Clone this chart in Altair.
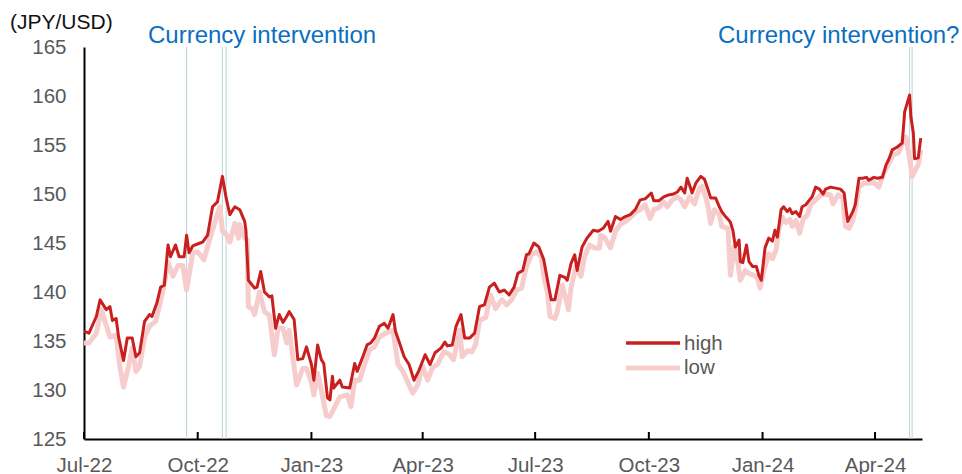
import altair as alt
import pandas as pd

# ---------------- data ----------------
high_dates = ["2022-07-01","2022-07-05","2022-07-11","2022-07-14","2022-07-19","2022-07-22","2022-07-24","2022-07-27","2022-07-29",
"2022-08-02","2022-08-05","2022-08-09","2022-08-12","2022-08-15","2022-08-19","2022-08-23","2022-08-25","2022-08-29",
"2022-09-01","2022-09-04","2022-09-07","2022-09-09","2022-09-13","2022-09-16","2022-09-20","2022-09-22","2022-09-24","2022-09-27",
"2022-10-03","2022-10-05","2022-10-09","2022-10-13","2022-10-17","2022-10-21","2022-10-24","2022-10-27","2022-10-31",
"2022-11-04","2022-11-08","2022-11-09","2022-11-11","2022-11-16","2022-11-18","2022-11-21","2022-11-24","2022-11-28","2022-11-30",
"2022-12-03","2022-12-06","2022-12-09","2022-12-12","2022-12-14","2022-12-18","2022-12-21","2022-12-25","2022-12-28",
"2023-01-01","2023-01-03","2023-01-06","2023-01-09","2023-01-11","2023-01-14","2023-01-16","2023-01-18","2023-01-19","2023-01-24","2023-01-26",
"2023-02-01","2023-02-05","2023-02-07","2023-02-11","2023-02-15","2023-02-18","2023-02-21","2023-02-25",
"2023-03-01","2023-03-04","2023-03-08","2023-03-10","2023-03-13","2023-03-17","2023-03-21","2023-03-25","2023-03-29",
"2023-04-03","2023-04-07","2023-04-11","2023-04-16","2023-04-19","2023-04-21","2023-04-25","2023-04-28",
"2023-05-02","2023-05-05","2023-05-09","2023-05-13","2023-05-17","2023-05-21","2023-05-25","2023-05-29",
"2023-06-02","2023-06-06","2023-06-10","2023-06-14","2023-06-17","2023-06-21","2023-06-24","2023-06-26","2023-06-30",
"2023-07-04","2023-07-08","2023-07-11","2023-07-14","2023-07-17","2023-07-21","2023-07-25","2023-07-27","2023-07-30",
"2023-08-02","2023-08-04","2023-08-08","2023-08-12","2023-08-17","2023-08-21","2023-08-25","2023-08-29","2023-08-31",
"2023-09-04","2023-09-08","2023-09-12","2023-09-16","2023-09-20","2023-09-24","2023-09-28",
"2023-10-03","2023-10-05","2023-10-09","2023-10-13","2023-10-17","2023-10-21","2023-10-24","2023-10-27","2023-10-30",
"2023-11-01","2023-11-03","2023-11-05","2023-11-08","2023-11-12","2023-11-15","2023-11-18","2023-11-20","2023-11-24","2023-11-27","2023-11-29",
"2023-12-02","2023-12-05","2023-12-06","2023-12-08","2023-12-10","2023-12-13","2023-12-14","2023-12-16","2023-12-19","2023-12-21","2023-12-24","2023-12-27","2023-12-29","2023-12-31",
"2024-01-03","2024-01-06","2024-01-09","2024-01-11","2024-01-13","2024-01-16","2024-01-18","2024-01-21","2024-01-23","2024-01-25","2024-01-28","2024-01-31",
"2024-02-02","2024-02-05","2024-02-08","2024-02-10","2024-02-13","2024-02-16","2024-02-19","2024-02-21","2024-02-25","2024-02-29",
"2024-03-04","2024-03-07","2024-03-09","2024-03-10","2024-03-14","2024-03-16","2024-03-19","2024-03-22","2024-03-25","2024-03-27","2024-03-31",
"2024-04-03","2024-04-07","2024-04-10","2024-04-12","2024-04-15","2024-04-19","2024-04-23","2024-04-25","2024-04-29","2024-04-30",
"2024-05-02","2024-05-03","2024-05-06","2024-05-08"]
high_values = [136.0,135.8,137.5,139.2,138.2,138.5,137.1,137.3,135.4,
133.0,135.3,135.3,133.4,133.8,137.0,137.7,137.5,138.9,
140.5,140.7,144.8,143.6,144.8,143.6,143.6,145.8,144.0,144.7,
145.0,145.1,145.8,148.7,149.2,151.8,149.6,147.9,148.7,
148.4,147.2,146.3,141.2,140.4,140.5,142.1,140.0,139.5,139.6,
136.3,137.7,136.9,137.5,138.0,137.2,133.1,133.2,134.4,
132.6,131.0,134.6,133.1,132.7,129.2,129.0,131.4,130.2,131.0,130.3,
130.2,132.7,131.9,133.2,134.6,134.8,135.3,136.5,
136.8,136.3,137.7,136.0,134.9,133.4,132.6,131.0,132.0,
133.6,132.6,133.8,134.3,134.9,134.5,134.6,136.5,
137.7,135.3,135.3,135.8,138.5,138.7,140.5,140.9,
140.0,140.2,139.7,140.5,141.9,142.2,143.8,143.9,145.0,
144.6,143.3,141.2,139.2,139.2,141.7,141.5,141.2,142.9,
143.8,142.2,144.6,145.5,146.3,146.2,146.5,147.2,146.2,
147.7,147.4,147.7,147.9,148.4,149.4,149.5,
150.1,149.3,149.3,149.7,149.9,150.0,150.2,150.7,150.1,
151.6,150.9,150.1,151.1,151.8,151.5,150.4,149.6,149.6,148.7,148.2,
147.7,147.3,147.1,146.3,144.6,145.3,143.1,143.0,144.8,143.1,142.6,142.6,141.7,141.2,
144.5,145.5,145.2,146.3,145.6,148.4,148.7,148.2,148.5,148.0,148.2,147.7,
148.7,148.9,149.4,149.7,150.7,150.5,150.0,150.5,150.7,150.6,
150.5,150.1,148.0,147.2,148.2,148.9,151.6,151.6,151.7,151.4,151.7,
151.6,151.7,153.0,153.5,154.5,154.8,155.2,158.4,160.1,157.9,
156.2,153.6,153.7,155.7]

low_dates = ["2022-07-01","2022-07-05","2022-07-11","2022-07-15","2022-07-22","2022-07-27","2022-07-30",
"2022-08-02","2022-08-06","2022-08-09","2022-08-12","2022-08-15","2022-08-19","2022-08-23","2022-08-28",
"2022-09-03","2022-09-07","2022-09-11","2022-09-15","2022-09-19","2022-09-22","2022-09-23","2022-09-26","2022-09-27",
"2022-10-01","2022-10-03","2022-10-06","2022-10-09","2022-10-15","2022-10-19","2022-10-21","2022-10-24","2022-10-27","2022-10-31",
"2022-11-03","2022-11-04","2022-11-08","2022-11-10","2022-11-11","2022-11-14","2022-11-16","2022-11-20","2022-11-24","2022-11-28",
"2022-12-02","2022-12-05","2022-12-09","2022-12-12","2022-12-14","2022-12-20","2022-12-25","2022-12-28",
"2023-01-01","2023-01-03","2023-01-06","2023-01-09","2023-01-13","2023-01-16","2023-01-20","2023-01-24","2023-01-30",
"2023-02-02","2023-02-05","2023-02-09","2023-02-13","2023-02-17","2023-02-21","2023-02-25",
"2023-03-02","2023-03-08","2023-03-12","2023-03-16","2023-03-20","2023-03-24","2023-03-28",
"2023-04-01","2023-04-05","2023-04-09","2023-04-13","2023-04-18","2023-04-22","2023-04-26",
"2023-05-01","2023-05-03","2023-05-07","2023-05-11","2023-05-14","2023-05-17","2023-05-22","2023-05-26","2023-05-30",
"2023-06-04","2023-06-08","2023-06-12","2023-06-16","2023-06-20","2023-06-24","2023-06-28",
"2023-07-02","2023-07-06","2023-07-08","2023-07-11","2023-07-13","2023-07-17","2023-07-19","2023-07-23","2023-07-28","2023-07-30",
"2023-08-03","2023-08-07","2023-08-10","2023-08-14","2023-08-18","2023-08-22","2023-08-23","2023-08-26","2023-08-31",
"2023-09-04","2023-09-08","2023-09-12","2023-09-16","2023-09-20","2023-09-24","2023-09-28",
"2023-10-02","2023-10-05","2023-10-09","2023-10-13","2023-10-16","2023-10-20","2023-10-24","2023-10-27","2023-10-30",
"2023-11-03","2023-11-07","2023-11-11","2023-11-13","2023-11-16","2023-11-18","2023-11-20","2023-11-23","2023-11-27","2023-11-29",
"2023-12-04","2023-12-06","2023-12-09","2023-12-11","2023-12-14","2023-12-18","2023-12-21","2023-12-25","2023-12-28","2023-12-30",
"2024-01-02","2024-01-06","2024-01-09","2024-01-12","2024-01-14","2024-01-17","2024-01-20","2024-01-23","2024-01-25","2024-01-28","2024-01-31",
"2024-02-03","2024-02-06","2024-02-09","2024-02-13","2024-02-17","2024-02-21","2024-02-25","2024-02-27",
"2024-03-02","2024-03-06","2024-03-08","2024-03-11","2024-03-14","2024-03-16","2024-03-19","2024-03-23","2024-03-27","2024-03-31",
"2024-04-04","2024-04-08","2024-04-12","2024-04-16","2024-04-20","2024-04-24","2024-04-26","2024-04-29",
"2024-05-01","2024-05-03","2024-05-06","2024-05-08"]
low_values = [134.8,134.8,135.8,138.2,135.4,135.6,132.4,
130.3,132.4,134.3,131.9,132.4,135.4,136.5,137.0,
140.2,143.0,141.6,142.7,142.7,140.2,140.9,143.3,144.0,
144.1,143.8,143.3,144.6,147.2,148.7,146.2,145.9,145.1,147.0,
145.5,146.9,145.5,145.3,138.5,138.3,137.7,140.0,138.0,137.6,
133.6,136.3,136.3,134.8,136.1,130.5,132.2,132.2,
130.8,129.5,131.7,130.0,127.4,127.3,128.3,129.3,129.5,
128.3,131.0,131.0,132.6,134.1,134.4,135.4,
135.8,136.1,132.6,131.9,130.8,129.7,130.5,
132.4,131.0,132.3,132.6,133.9,133.7,133.1,
136.1,133.4,134.0,133.9,134.7,137.1,137.4,139.7,138.3,
139.2,138.7,139.2,140.2,140.4,142.6,143.8,
144.1,143.6,141.6,139.9,137.5,137.3,138.0,140.7,138.2,140.4,
142.6,141.6,143.6,144.8,144.5,144.5,145.8,145.6,144.5,
146.2,146.9,147.2,147.6,148.1,148.4,148.9,
147.5,148.4,148.6,149.2,148.7,149.4,149.7,149.4,148.7,
149.7,149.0,150.6,150.8,149.7,148.7,147.0,148.4,147.9,146.7,
146.5,141.7,144.6,143.9,141.2,142.2,141.9,141.7,141.4,140.4,
142.2,143.9,143.4,144.3,146.3,147.6,147.1,147.4,146.7,147.3,146.0,
147.5,147.8,148.9,149.4,149.9,150.0,149.9,149.0,
149.9,149.6,146.7,146.5,147.3,148.4,150.7,151.1,151.1,151.2,
150.7,152.1,153.1,154.0,154.2,155.5,155.8,153.6,
151.8,152.3,153.0,154.5]

intervention_dates = ["2022-09-22", "2022-10-21", "2022-10-24", "2024-04-29", "2024-05-01"]
quarter_ticks = ["2022-07-01", "2022-10-01", "2023-01-01", "2023-04-01", "2023-07-01",
                 "2023-10-01", "2024-01-01", "2024-04-01"]
y_ticks = [125, 130, 135, 140, 145, 150, 155, 160, 165]
series_names = ["high", "low"]
unit_label = "(JPY/USD)"
annotation_left = "Currency intervention"
annotation_right = "Currency intervention?"

# ---------------- build chart ----------------
W, H = 838, 392
FONT = "Liberation Sans"
HIGH_COLOR = "#c9201f"
LOW_COLOR = "#f7cccc"
GRAY = "#595959"

high_df = pd.DataFrame({"date": pd.to_datetime(high_dates), "value": high_values})
low_df = pd.DataFrame({"date": pd.to_datetime(low_dates), "value": low_values})
int_df = pd.DataFrame({"date": pd.to_datetime(intervention_dates)})
tick_df = pd.DataFrame({"date": pd.to_datetime(quarter_ticks)})


def dt(s):
    d = pd.Timestamp(s)
    return alt.DateTime(year=d.year, month=d.month, date=d.day)


x_scale = alt.Scale(domain=[dt("2022-07-01"), dt("2024-05-09")])
y_scale = alt.Scale(domain=[y_ticks[0], y_ticks[-1]], nice=False, zero=False)

x_axis = alt.Axis(values=[dt(s) for s in quarter_ticks], format="%b-%y", title=None,
                  labelFont=FONT, labelFontSize=20.5, labelColor=GRAY, labelPadding=16,
                  ticks=False, grid=False, domainColor="#000000", domainWidth=2,
                  labelFlush=False, labelOverlap=False)
y_axis = alt.Axis(values=y_ticks, title=None, labelFont=FONT, labelFontSize=20.5,
                  labelColor=GRAY, labelPadding=18, ticks=False, grid=False,
                  domainColor="#000000", domainWidth=2)

rules = alt.Chart(int_df).mark_rule(color="#b9d4d7", strokeWidth=1).encode(
    x=alt.X("date:T", scale=x_scale, axis=x_axis))

low_line = alt.Chart(low_df).mark_line(color=LOW_COLOR, strokeWidth=5, strokeJoin="round").encode(
    x=alt.X("date:T", scale=x_scale, axis=x_axis),
    y=alt.Y("value:Q", scale=y_scale, axis=y_axis))

high_line = alt.Chart(high_df).mark_line(color=HIGH_COLOR, strokeWidth=3, strokeJoin="round").encode(
    x=alt.X("date:T", scale=x_scale, axis=x_axis),
    y=alt.Y("value:Q", scale=y_scale, axis=y_axis))

inner_ticks = alt.Chart(tick_df).mark_rule(color="#000000", strokeWidth=2).encode(
    x=alt.X("date:T", scale=x_scale, axis=x_axis),
    y=alt.value(H - 7), y2=alt.value(H))


def label(text, x, y, size, color, align="left", baseline="alphabetic"):
    return alt.Chart(pd.DataFrame({"t": [text]})).mark_text(
        font=FONT, fontSize=size, color=color, align=align, baseline=baseline
    ).encode(x=alt.value(x), y=alt.value(y), text="t:N")


unit = label(unit_label, -74, -18, 21, "#111111")
ann_l = label(annotation_left, 64, -4, 24, "#0a6fc2")
ann_r = label(annotation_right, 634, -4, 24, "#0a6fc2")

leg_df = pd.DataFrame({"s": [0]})
leg_high = alt.Chart(leg_df).mark_rule(color=HIGH_COLOR, strokeWidth=3.5).encode(
    x=alt.value(542), x2=alt.value(596), y=alt.value(296))
leg_low = alt.Chart(leg_df).mark_rule(color=LOW_COLOR, strokeWidth=5).encode(
    x=alt.value(542), x2=alt.value(596), y=alt.value(321))
leg_t1 = label(series_names[0], 600, 297, 20.5, GRAY, baseline="middle")
leg_t2 = label(series_names[1], 600, 321, 20.5, GRAY, baseline="middle")

chart = alt.layer(
    rules, low_line, high_line, inner_ticks, unit, ann_l, ann_r,
    leg_high, leg_low, leg_t1, leg_t2
).properties(
    width=W, height=H,
    padding={"left": 84, "top": 47, "right": 40, "bottom": 35},
    autosize=alt.AutoSizeParams(type="none"),
    background="#ffffff",
).configure_view(stroke=None)

chart.save("out.html", embed_options={"renderer": "svg", "actions": False})
